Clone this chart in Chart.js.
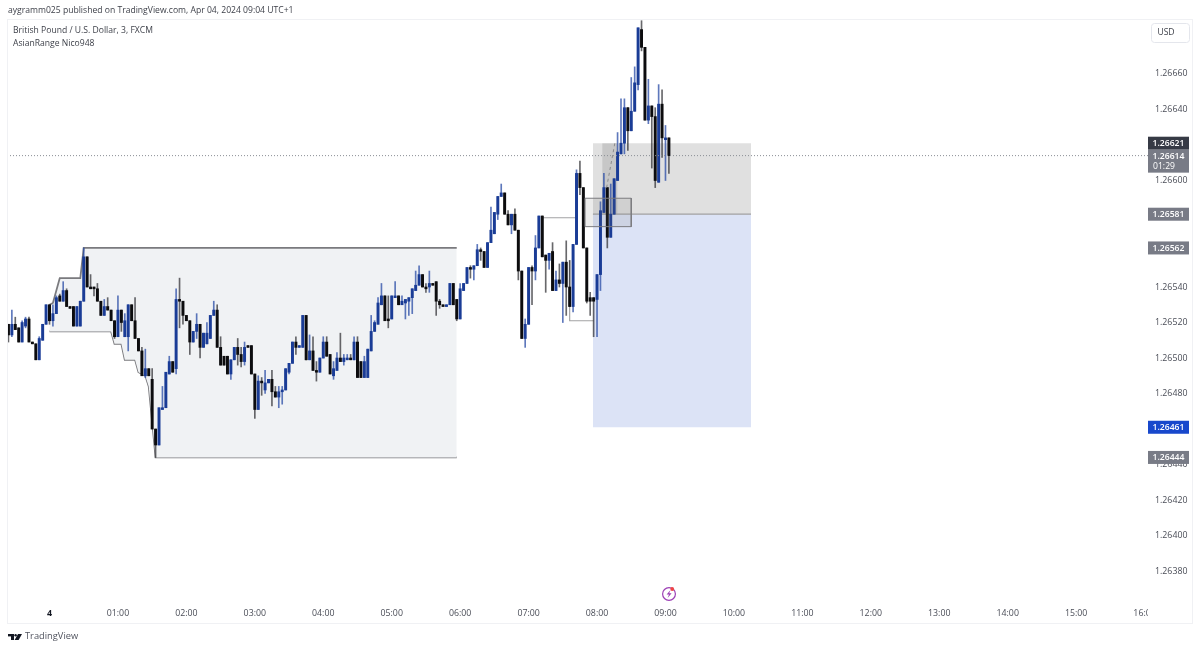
<!DOCTYPE html>
<html>
<head>
<meta charset="utf-8">
<title>GBPUSD 3m</title>
<script src="https://cdn.jsdelivr.net/npm/chart.js@4"></script>
<style>
  html, body { margin: 0; padding: 0; background: #fff; }
  canvas { display: block; }
</style>
</head>
<body>
<canvas id="chart" width="1200" height="650"></canvas>
<script>
// === DATA ===
// first bar is 23:24, one bar every 3 minutes, last one 09:03
const firstBar = -12;
const opens = [1.26519,1.26513,1.26519,1.26517,1.26509,1.26518,1.26522,1.26509,1.26508,1.26499,1.26510,1.26519,
1.26530,1.26521,1.26525,1.26535,1.26532,1.26538,1.26529,1.26529,1.26518,1.26518,1.26532,1.26557,1.26540,1.26540,1.26539,1.26532,1.26524,1.26529,1.26527,1.26521,
1.26512,1.26527,1.26512,1.26512,1.26530,1.26521,1.26511,1.26504,1.26490,1.26494,1.26488,1.26460,1.26451,1.26471,1.26472,1.26491,1.26498,1.26494,1.26533,1.26532,
1.26524,1.26521,1.26509,1.26515,1.26519,1.26506,1.26508,1.26511,1.26524,1.26527,1.26506,1.26501,1.26501,1.26491,1.26499,1.26506,1.26502,1.26498,1.26507,1.26507,
1.26491,1.26471,1.26487,1.26482,1.26486,1.26488,1.26481,1.26478,1.26481,1.26482,1.26492,1.26497,1.26509,1.26506,1.26506,1.26524,1.26499,1.26504,1.26493,1.26492,
1.26500,1.26509,1.26502,1.26490,1.26493,1.26500,1.26498,1.26499,1.26500,1.26499,1.26509,1.26498,1.26489,1.26489,1.26504,1.26515,1.26519,1.26530,1.26535,1.26522,
1.26522,1.26534,1.26535,1.26530,1.26531,1.26532,1.26534,1.26538,1.26541,1.26547,1.26540,1.26540,1.26542,1.26543,1.26532,1.26530,1.26529,1.26530,1.26542,1.26533,
1.26522,1.26538,1.26542,1.26551,1.26550,1.26552,1.26561,1.26560,1.26551,1.26565,1.26570,1.26581,1.26591,1.26593,1.26581,1.26575,1.26581,1.26572,1.26549,1.26511,
1.26519,1.26551,1.26549,1.26562,1.26580,1.26558,1.26555,1.26560,1.26538,1.26544,1.26542,1.26554,1.26540,1.26529,1.26564,1.26604,1.26596,1.26562,1.26534,1.26534,
1.26533,1.26547,1.26582,1.26596,1.26568,1.26581,1.26600,1.26615,1.26621,1.26641,1.26628,1.26639,1.26654,1.26685,1.26675,1.26634,1.26642,1.26636,1.26599,1.26643,1.26623,1.26624];
const highs = [1.26519,1.26527,1.26523,1.26517,1.26521,1.26523,1.26523,1.26509,1.26508,1.26512,1.26519,1.26530,
1.26530,1.26530,1.26535,1.26536,1.26543,1.26539,1.26529,1.26529,1.26529,1.26532,1.26562,1.26557,1.26547,1.26540,1.26542,1.26532,1.26533,1.26534,1.26527,1.26521,
1.26535,1.26527,1.26525,1.26530,1.26530,1.26534,1.26511,1.26506,1.26505,1.26494,1.26494,1.26460,1.26472,1.26484,1.26492,1.26501,1.26498,1.26539,1.26545,1.26532,
1.26524,1.26521,1.26515,1.26525,1.26519,1.26514,1.26520,1.26524,1.26532,1.26530,1.26512,1.26501,1.26501,1.26499,1.26506,1.26511,1.26506,1.26509,1.26507,1.26507,
1.26491,1.26490,1.26489,1.26493,1.26488,1.26493,1.26484,1.26484,1.26484,1.26494,1.26497,1.26509,1.26512,1.26507,1.26524,1.26524,1.26513,1.26512,1.26498,1.26500,
1.26512,1.26512,1.26502,1.26498,1.26503,1.26514,1.26502,1.26502,1.26502,1.26512,1.26512,1.26498,1.26501,1.26505,1.26524,1.26521,1.26534,1.26542,1.26535,1.26535,
1.26535,1.26543,1.26535,1.26535,1.26533,1.26534,1.26539,1.26549,1.26552,1.26547,1.26542,1.26549,1.26542,1.26543,1.26533,1.26530,1.26530,1.26542,1.26542,1.26533,
1.26542,1.26542,1.26551,1.26552,1.26552,1.26564,1.26562,1.26560,1.26565,1.26585,1.26582,1.26591,1.26598,1.26593,1.26583,1.26581,1.26584,1.26572,1.26549,1.26522,
1.26551,1.26552,1.26569,1.26580,1.26580,1.26558,1.26559,1.26565,1.26549,1.26553,1.26554,1.26566,1.26555,1.26564,1.26606,1.26611,1.26596,1.26562,1.26537,1.26534,
1.26547,1.26588,1.26604,1.26596,1.26598,1.26601,1.26627,1.26646,1.26646,1.26641,1.26658,1.26664,1.26686,1.26690,1.26675,1.26657,1.26642,1.26641,1.26654,1.26651,1.26631,1.26624];
const lows = [1.26509,1.26512,1.26516,1.26509,1.26509,1.26517,1.26509,1.26508,1.26499,1.26499,1.26510,1.26519,
1.26519,1.26518,1.26525,1.26532,1.26532,1.26529,1.26528,1.26518,1.26518,1.26518,1.26532,1.26540,1.26539,1.26535,1.26532,1.26524,1.26524,1.26527,1.26521,1.26511,
1.26512,1.26515,1.26512,1.26504,1.26521,1.26511,1.26504,1.26490,1.26489,1.26490,1.26460,1.26444,1.26451,1.26471,1.26472,1.26491,1.26492,1.26491,1.26517,1.26519,
1.26521,1.26502,1.26509,1.26511,1.26500,1.26506,1.26508,1.26511,1.26524,1.26506,1.26496,1.26496,1.26491,1.26488,1.26499,1.26496,1.26495,1.26496,1.26506,1.26491,
1.26466,1.26471,1.26479,1.26480,1.26486,1.26473,1.26478,1.26472,1.26474,1.26482,1.26491,1.26497,1.26502,1.26506,1.26506,1.26499,1.26499,1.26493,1.26487,1.26492,
1.26500,1.26501,1.26491,1.26488,1.26493,1.26498,1.26496,1.26499,1.26499,1.26499,1.26489,1.26489,1.26489,1.26489,1.26504,1.26515,1.26519,1.26530,1.26521,1.26517,
1.26522,1.26534,1.26530,1.26530,1.26522,1.26524,1.26525,1.26538,1.26541,1.26540,1.26537,1.26537,1.26541,1.26524,1.26528,1.26529,1.26529,1.26530,1.26530,1.26521,
1.26522,1.26538,1.26542,1.26545,1.26544,1.26552,1.26555,1.26551,1.26551,1.26565,1.26570,1.26578,1.26591,1.26581,1.26575,1.26570,1.26572,1.26544,1.26511,1.26506,
1.26519,1.26530,1.26544,1.26562,1.26557,1.26537,1.26550,1.26538,1.26538,1.26540,1.26520,1.26524,1.26529,1.26526,1.26564,1.26592,1.26562,1.26531,1.26524,1.26512,
1.26512,1.26538,1.26582,1.26562,1.26568,1.26581,1.26600,1.26615,1.26615,1.26617,1.26628,1.26639,1.26651,1.26673,1.26634,1.26632,1.26607,1.26596,1.26599,1.26613,1.26600,1.26604];
const closes = [1.26513,1.26519,1.26516,1.26509,1.26520,1.26522,1.26509,1.26508,1.26499,1.26511,1.26519,1.26530,
1.26521,1.26525,1.26534,1.26532,1.26538,1.26529,1.26528,1.26518,1.26529,1.26532,1.26557,1.26540,1.26539,1.26539,1.26532,1.26524,1.26529,1.26527,1.26521,1.26512,
1.26527,1.26520,1.26521,1.26530,1.26521,1.26511,1.26504,1.26490,1.26494,1.26490,1.26460,1.26451,1.26472,1.26472,1.26492,1.26498,1.26492,1.26533,1.26532,1.26524,
1.26521,1.26509,1.26515,1.26519,1.26506,1.26514,1.26514,1.26524,1.26527,1.26506,1.26496,1.26496,1.26491,1.26499,1.26506,1.26502,1.26498,1.26506,1.26506,1.26491,
1.26471,1.26487,1.26486,1.26486,1.26488,1.26481,1.26478,1.26481,1.26482,1.26494,1.26497,1.26509,1.26506,1.26507,1.26524,1.26499,1.26504,1.26493,1.26492,1.26500,
1.26509,1.26501,1.26491,1.26494,1.26500,1.26498,1.26500,1.26500,1.26499,1.26509,1.26489,1.26489,1.26498,1.26505,1.26515,1.26520,1.26531,1.26535,1.26521,1.26521,
1.26535,1.26535,1.26530,1.26532,1.26533,1.26534,1.26539,1.26541,1.26547,1.26540,1.26539,1.26542,1.26541,1.26532,1.26530,1.26529,1.26530,1.26542,1.26530,1.26522,
1.26539,1.26542,1.26551,1.26550,1.26552,1.26561,1.26560,1.26551,1.26565,1.26572,1.26582,1.26591,1.26593,1.26581,1.26575,1.26581,1.26572,1.26549,1.26511,1.26519,
1.26551,1.26549,1.26562,1.26580,1.26557,1.26555,1.26559,1.26538,1.26544,1.26542,1.26554,1.26540,1.26529,1.26564,1.26604,1.26596,1.26562,1.26532,1.26532,1.26532,
1.26547,1.26583,1.26596,1.26568,1.26581,1.26601,1.26616,1.26621,1.26641,1.26628,1.26639,1.26655,1.26686,1.26675,1.26634,1.26642,1.26636,1.26600,1.26643,1.26624,1.26624,1.26614];

// asian range, the two lines share their bars
const rangeBars = [0,1,3,9,10,18,19,21,22,25,26,28,29,31,119];
const rangeHigh = [1.26530,1.26531,1.26545,1.26545,1.26562,1.26562,1.26562,1.26562,1.26562,1.26562,1.26562,1.26562,1.26562,1.26562,1.26562];
const rangeLow = [1.26515,1.26515,1.26515,1.26515,1.26515,1.26515,1.26508,1.26508,1.26499,1.26499,1.26492,1.26490,1.26484,1.26444,1.26444];

// long/short position tool
const positionBars = [158.8, 205];
const stopPrice = 1.26621;
const entryPrice = 1.26581;
const targetPrice = 1.26461;

// small drawings on top of the candles
const darkBoxBars = [161.5, 166];
const fvgBars = [156.5, 170];
const fvgTop = 1.26590;
const fvgBottom = 1.26574;
const openBoxBars = [144, 154];
const openBoxPrice = 1.26579;
const lowBoxBars = [152, 152, 159];
const lowBoxPrices = [1.26555, 1.26521, 1.26521];
const dashBars = [162.8, 165.2];
const dashPrices = [1.26596, 1.26621];
const lastPrice = 1.26614;

const hourBars = [0,20,40,60,80,100,120,140,160,180,200,220,240,260,280,300,320];
const hourLabels = ["4","01:00","02:00","03:00","04:00","05:00","06:00","07:00","08:00","09:00","10:00","11:00","12:00","13:00","14:00","15:00","16:00"];
const priceTicks = [1.2638,1.264,1.2642,1.2644,1.2646,1.2648,1.265,1.2652,1.2654,1.2656,1.2658,1.266,1.2662,1.2664,1.2666];

// tags on the price axis: price, text, color
const tagPrices = [1.26621, 1.26581, 1.26562, 1.26461, 1.26444];
const tagColors = ["#363a45", "#787b86", "#787b86", "#1848cc", "#787b86"];

// === LOOK ===
const FONT = '"Open Sans", sans-serif';
const UP = "#1a3c96";
const DOWN = "#0c0c0e";
const UP_WICK = "rgba(40,75,165,0.75)";
const DOWN_WICK = "rgba(40,40,44,0.7)";
const X_MIN = -12.42;
const X_MAX = 321;

// === DATASETS ===
const barIds = opens.map((_, i) => firstBar + i);
const isUp = i => closes[i] >= opens[i];

function pts(xs, ys) {
  return xs.map((x, i) => ({ x, y: ys[i] }));
}

function fillBox(xs, top, bottom, color, order) {
  return {
    type: "line", data: pts(xs, [top, top]), pointRadius: 0, borderWidth: 0,
    borderColor: "transparent", backgroundColor: color, fill: { value: bottom }, order
  };
}

function path(xs, ys, color, order, width = 1, dash = []) {
  return {
    type: "line", data: pts(xs, ys), pointRadius: 0, borderWidth: width,
    borderColor: color, borderDash: dash, fill: false, order
  };
}

const datasets = [
  // range fill goes from the first line to the one right after it
  {
    type: "line", data: pts(rangeBars, rangeHigh), pointRadius: 0, borderWidth: 1.8,
    borderColor: "#7a7a7e", backgroundColor: "#f0f2f4", fill: "+1", order: 10
  },
  path(rangeBars, rangeLow, "#7a7a7e", 10, 1.8),

  fillBox(positionBars, stopPrice, entryPrice, "#e0e0e0", 9),
  fillBox(positionBars, entryPrice, targetPrice, "#dce3f6", 9),
  path(positionBars, [entryPrice, entryPrice], "#a0a0a2", 8, 1.2),
  fillBox(darkBoxBars, stopPrice, entryPrice, "rgba(90,90,90,0.18)", 8),
  path(openBoxBars, [openBoxPrice, openBoxPrice], "#a2a2a4", 7, 1.2),
  path(lowBoxBars, lowBoxPrices, "#a2a2a4", 7, 1.2),

  // candles: wick and body are two floating bars on the same x
  {
    data: barIds.map((x, i) => ({ x, y: [lows[i], highs[i]] })),
    backgroundColor: barIds.map((_, i) => isUp(i) ? UP_WICK : DOWN_WICK),
    barThickness: 1, grouped: false, order: 3
  },
  {
    data: barIds.map((x, i) => ({ x, y: [Math.min(opens[i], closes[i]), Math.max(opens[i], closes[i])] })),
    backgroundColor: barIds.map((_, i) => isUp(i) ? UP : DOWN),
    barThickness: 2.3, grouped: false, minBarLength: 1, order: 2
  },

  fillBox(fvgBars, fvgTop, fvgBottom, "rgba(110,110,110,0.14)", 1),
  path([fvgBars[0], fvgBars[1], fvgBars[1], fvgBars[0], fvgBars[0]], [fvgTop, fvgTop, fvgBottom, fvgBottom, fvgTop], "#7c7c80", 1, 1),
  path(dashBars, dashPrices, "#8a8a8c", 1, 1, [3, 3]),
  path([X_MIN, X_MAX], [lastPrice, lastPrice], "#8a8d94", 0, 1, [1, 2])
];

// === TEXT, TAGS AND FRAME ===
function tag(ctx, y, h, color) {
  ctx.fillStyle = color;
  ctx.fillRect(1148, y, 41, h);
}

const decorations = {
  id: "decorations",
  afterDraw(chart) {
    const ctx = chart.ctx;
    const yScale = chart.scales.y;
    ctx.save();

    // time axis is cut where the price axis starts
    ctx.fillStyle = "#fff";
    ctx.fillRect(1148, 601, 43, 21);

    // frame
    ctx.strokeStyle = "#f0f1f4";
    ctx.lineWidth = 1;
    ctx.strokeRect(7.5, 19.5, 1185, 604);

    // header
    ctx.textBaseline = "middle";
    ctx.textAlign = "left";
    ctx.fillStyle = "#3c3f48";
    ctx.font = "8.6px " + FONT;
    ctx.fillText("aygramm025 published on TradingView.com, Apr 04, 2024 09:04 UTC+1", 8, 10.5);
    ctx.fillText("British Pound / U.S. Dollar, 3, FXCM", 13, 31);
    ctx.fillText("AsianRange Nico948", 13, 44);

    // USD button
    ctx.strokeStyle = "#e4e6ec";
    ctx.beginPath();
    ctx.roundRect(1151.5, 23.5, 38, 19, 3);
    ctx.stroke();
    ctx.textAlign = "center";
    ctx.fillStyle = "#3c3f48";
    ctx.fillText("USD", 1166, 33);

    // price tags
    ctx.font = "600 8.6px " + FONT;
    tagPrices.forEach((p, i) => {
      const y = yScale.getPixelForValue(p);
      tag(ctx, y - 6.5, 13, tagColors[i]);
      ctx.fillStyle = "#fff";
      ctx.fillText(p.toFixed(5), 1168.5, y + 0.5);
    });
    const lastY = yScale.getPixelForValue(lastPrice);
    tag(ctx, lastY - 6, 23, "#787b86");
    ctx.fillStyle = "#fff";
    ctx.fillText(lastPrice.toFixed(5), 1168.5, lastY + 0.5);
    ctx.font = "8.6px " + FONT;
    ctx.fillText("01:29", 1164, lastY + 11);

    // TradingView logo + name
    ctx.fillStyle = "#131722";
    ctx.fillRect(8, 634, 6, 2.4);
    ctx.fillRect(11, 634, 3, 6);
    ctx.beginPath();
    ctx.arc(15.6, 635.2, 1.2, 0, Math.PI * 2);
    ctx.fill();
    ctx.beginPath();
    ctx.moveTo(18, 634);
    ctx.lineTo(22, 634);
    ctx.lineTo(18.6, 640);
    ctx.lineTo(14.6, 640);
    ctx.closePath();
    ctx.fill();
    ctx.textAlign = "left";
    ctx.fillStyle = "#50535e";
    ctx.font = "9.3px " + FONT;
    ctx.fillText("TradingView", 25, 636.5);

    // lightning icon above 09:00
    ctx.strokeStyle = "#9c3fb5";
    ctx.lineWidth = 1.2;
    ctx.beginPath();
    ctx.arc(669, 594, 6.4, 0, Math.PI * 2);
    ctx.stroke();
    ctx.fillStyle = "#9c3fb5";
    ctx.beginPath();
    ctx.moveTo(670.5, 590);
    ctx.lineTo(666.6, 594.6);
    ctx.lineTo(669, 594.6);
    ctx.lineTo(667.6, 598);
    ctx.lineTo(671.6, 593.2);
    ctx.lineTo(669.2, 593.2);
    ctx.closePath();
    ctx.fill();
    ctx.fillStyle = "#ef4444";
    ctx.beginPath();
    ctx.arc(672.2, 589, 1.9, 0, Math.PI * 2);
    ctx.fill();

    ctx.restore();
  }
};

// === CHART ===
new Chart(document.getElementById("chart"), {
  type: "bar",
  data: { datasets },
  plugins: [decorations],
  options: {
    responsive: false,
    animation: false,
    layout: { padding: { left: 7, right: 8, top: 20, bottom: 27 } },
    plugins: { legend: { display: false }, tooltip: { enabled: false }, title: { display: false } },
    scales: {
      x: {
        type: "linear",
        min: X_MIN,
        max: X_MAX,
        offset: false,
        grid: { display: false, drawTicks: false },
        border: { display: false },
        afterBuildTicks: scale => { scale.ticks = hourBars.map(value => ({ value })); },
        afterFit: scale => { scale.height = 23; },
        ticks: {
          autoSkip: false,
          maxRotation: 0,
          padding: 8,
          color: ctx => ctx.index === 0 ? "#131722" : "#4a4d57",
          font: ctx => ({ family: FONT, size: 8.8, weight: ctx.index === 0 ? "700" : "400" }),
          callback: value => hourLabels[hourBars.indexOf(value)]
        }
      },
      y: {
        position: "right",
        min: 1.263637,
        max: 1.266904,
        grid: { display: false, drawTicks: false },
        border: { display: false },
        afterBuildTicks: scale => { scale.ticks = priceTicks.map(value => ({ value })); },
        afterFit: scale => { scale.width = 44; },
        ticks: {
          autoSkip: false,
          padding: 7,
          color: "#4a4d57",
          font: { family: FONT, size: 8.8 },
          callback: value => value.toFixed(5)
        }
      }
    }
  }
});
</script>
</body>
</html>
